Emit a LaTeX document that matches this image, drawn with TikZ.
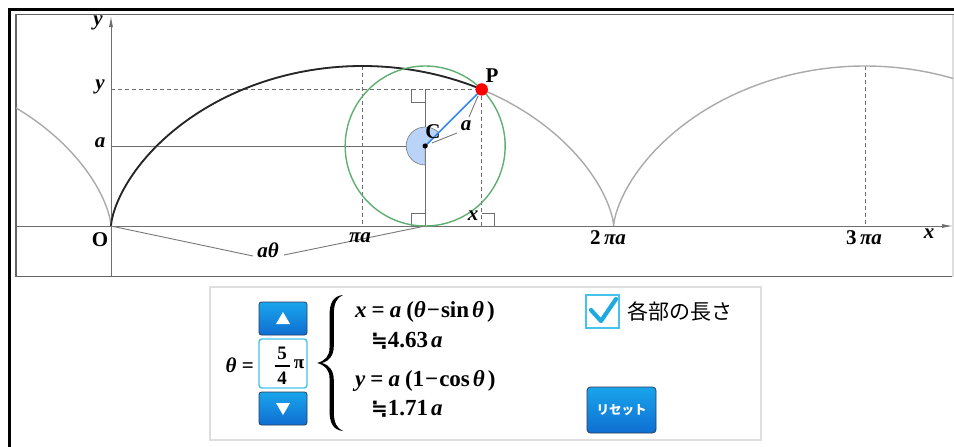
\documentclass[tikz,border=0pt]{standalone}
\usepackage{fontspec}
\setmainfont{Liberation Serif}
\newfontfamily\cjk{Noto Sans CJK JP}
\newfontfamily\dejavu{DejaVu Sans}
\usetikzlibrary{arrows.meta}

\definecolor{gridgray}{RGB}{110,110,110}
\definecolor{framegray}{RGB}{100,100,100}
\definecolor{curvegray}{RGB}{170,170,170}
\definecolor{leadgray}{RGB}{120,120,120}
\definecolor{circgreen}{RGB}{95,175,115}
\definecolor{radblue}{RGB}{50,140,240}
\definecolor{sectorblue}{RGB}{185,212,248}
\definecolor{btntop}{RGB}{25,165,235}
\definecolor{btnbot}{RGB}{15,110,210}
\definecolor{btnedge}{RGB}{40,60,90}
\definecolor{boxcyan}{RGB}{70,195,235}
\definecolor{checkcyan}{RGB}{30,170,225}
\definecolor{panelgray}{RGB}{222,222,222}

\begin{document}
\begin{tikzpicture}[x=1pt,y=-1pt,
  lbl/.style={font=\fontsize{21}{21}\selectfont\bfseries\itshape, inner sep=0pt},
  upl/.style={font=\fontsize{21}{21}\selectfont\bfseries, inner sep=0pt},
  eqn/.style={font=\fontsize{23}{23}\selectfont\bfseries, inner sep=0pt, anchor=west},
  frac/.style={font=\fontsize{19}{19}\selectfont\bfseries, inner sep=0pt},
  dashline/.style={dashed, dash pattern=on 4pt off 3pt, gridgray, line width=0.8pt},
  thinline/.style={gridgray, line width=0.9pt},
  leader/.style={leadgray, line width=0.9pt},
  rightmark/.style={gridgray, line width=0.9pt},
  btn/.style={draw=btnedge, line width=0.8pt, rounded corners=2.5pt, top color=btntop, bottom color=btnbot},
  tri/.style={fill=white, draw=none}
]
\useasboundingbox (0,0) rectangle (954,447);
\fill[white] (0,0) rectangle (954,447);

% outer frame
\draw[line width=3pt, black] (9,447) -- (9,9) -- (954,9);
% plot frame
\draw[framegray, line width=1.5pt] (954,14.5) -- (16,14.5) -- (16,276.5) -- (954,276.5);
\draw[panelgray, line width=1.2pt] (953,14.5) -- (953,276.5);

% key points
\coordinate (O) at (111,226);
\coordinate (C) at (425.16,146);
\coordinate (P) at (481.73,89.43);
\coordinate (T) at (425.16,226);
\coordinate (PX) at (481.73,226);
\coordinate (PY) at (111,89.43);
\coordinate (CY) at (111,146);
\coordinate (CP) at (425.16,89.43);
\coordinate (TopA) at (362.33,66);
\coordinate (BotA) at (362.33,226);
\coordinate (TopB) at (865,66);
\coordinate (BotB) at (865,226);
\coordinate (XL) at (16,226);
\coordinate (XR) at (953,226);
\coordinate (YB) at (111,276);
\coordinate (YT) at (111,16);

% axes
\draw[thinline, -{Latex[length=11pt,width=4pt]}] (XL) -- (XR);
\draw[thinline, -{Latex[length=11pt,width=4pt]}] (YB) -- (YT);

% guide lines
\draw[dashline] (PY) -- (P);
\draw[thinline] (CY) -- (C);
\draw[dashline] (TopA) -- (BotA);
\draw[dashline] (TopB) -- (BotB);
\draw[dashline] (P) -- (PX);
\draw[thinline] (CP) -- (T);

% right-angle marks
\draw[rightmark] (411.16,89.43) -- (411.16,102.43) -- (425.16,102.43);
\draw[rightmark] (411.16,226) -- (411.16,213) -- (425.16,213);
\draw[rightmark] (481.73,213) -- (494.73,213) -- (494.73,226);

% gray cycloid
\begin{scope}
\clip (16,14.5) rectangle (953,276);
\draw[curvegray, line width=1.4pt, domain=-6.2832:12.5664, samples=300, smooth]
  plot ({111+80*(\x - sin(\x r))}, {226-80*(1-cos(\x r))});
\end{scope}
% black cycloid
\draw[black!85, line width=1.8pt, domain=0:3.92699, samples=120, smooth]
  plot ({111+80*(\x - sin(\x r))}, {226-80*(1-cos(\x r))});

% angle sector
\filldraw[fill=sectorblue, draw=leadgray, line width=0.6pt] (C) -- ++(-45:19) arc[start angle=-45, end angle=-270, radius=19] -- cycle;
% circle
\draw[circgreen, line width=1.4pt] (C) circle[radius=80];
% radius
\draw[radblue, line width=1.6pt] (C) -- (P);
\fill[black] (C) circle[radius=2.6];
\fill[red] (P) circle[radius=6.2];

% leaders
\coordinate (L1a) at (253,256);
\coordinate (L1b) at (284,255);
\coordinate (L2a) at (478,96);
\coordinate (L2b) at (469,117);
\coordinate (L3a) at (457,133);
\coordinate (L3b) at (432,143);
\draw[leader] (O) -- (L1a);
\draw[leader] (L1b) -- (T);
\draw[leader] (L2a) -- (L2b);
\draw[leader] (L3a) -- (L3b);

% labels
\node[lbl] (ylab) at (98,23) {y};
\node[lbl] (ytick) at (100,87) {y};
\node[lbl] (atick) at (100,143) {a};
\node[upl] (Olab) at (100,240) {O};
\node[lbl] (athlab) at (268,250) {aθ};
\node[lbl] (pialab) at (360,238) {πa};
\node[lbl] (twopialab) at (608,238) {\upshape 2\,\itshape πa};
\node[lbl] (threepialab) at (864,238) {\upshape 3\,\itshape πa};
\node[lbl] (xlab) at (929,234) {x};
\node[upl] (Plab) at (492,76) {P};
\node[upl] (Clab) at (433,132) {C};
\node[lbl] (alab) at (466,126) {a};
\node[lbl] (xfoot) at (473,216) {x};

% control panel
\draw[panelgray, line width=1.2pt] (210,287) rectangle (761,440);

\node[lbl, anchor=east] (thetalab) at (254,365) {θ\upshape\ =};
\draw[btn] (259,302) rectangle (307,335);
\node[draw=none] (upbtn) at (283,318.5) {};
\fill[tri] (276,324) -- (290,324) -- (283,312) -- cycle;
\draw[boxcyan, line width=1.4pt, rounded corners=3pt, fill=white] (259,339) rectangle (307,388);
\node[frac] (num) at (282,353) {5};
\node[frac] (den) at (282,378) {4};
\draw[black, line width=1.1pt] (274.5,366) -- (289.5,366);
\node[frac] (pisym) at (299,364) {π};
\draw[btn] (259,392) rectangle (307,425);
\node[draw=none] (downbtn) at (283,408.5) {};
\fill[tri] (276,403) -- (290,403) -- (283,415) -- cycle;

% brace (calligraphic)
\fill[black] (343,295) .. controls (333,296) and (329.5,303) .. (329.5,316) -- (329.5,348)
  .. controls (329.5,356) and (325,361) .. (317,363)
  .. controls (325,365) and (329.5,370) .. (329.5,378) -- (329.5,410)
  .. controls (329.5,423) and (333,430) .. (343,431)
  .. controls (337,428.5) and (333.8,423) .. (333.8,412) -- (333.8,380)
  .. controls (333.8,371) and (329.5,365) .. (322,363)
  .. controls (329.5,361) and (333.8,355) .. (333.8,346) -- (333.8,314)
  .. controls (333.8,303) and (337,297.5) .. (343,295) -- cycle;

% equations
\node[eqn] (eq1) at (355,312) {\itshape x\hspace{5pt}\upshape=\hspace{5pt}\itshape a\hspace{5pt}\upshape(\itshape θ\upshape\hspace{1pt}−\hspace{1pt}sin\hspace{3pt}\itshape θ\hspace{3pt}\upshape)};
\node[eqn] (eq2) at (371,341) {{\dejavu\bfseries\fontsize{20}{20}\selectfont ≒}4.63\hspace{3pt}\itshape a};
\node[eqn] (eq3) at (355,381) {\itshape y\hspace{5pt}\upshape=\hspace{5pt}\itshape a\hspace{5pt}\upshape(1\hspace{1pt}−\hspace{1pt}cos\hspace{3pt}\itshape θ\hspace{3pt}\upshape)};
\node[eqn] (eq4) at (371,409) {{\dejavu\bfseries\fontsize{20}{20}\selectfont ≒}1.71\hspace{3pt}\itshape a};

% checkbox
\draw[boxcyan, line width=2.4pt] (586,295) rectangle (619,328);
\draw[checkcyan, line width=4.2pt, line cap=round, line join=round] (591,310) -- (601,321) -- (616,299);
\node[font=\cjk\fontsize{21}{21}\selectfont, anchor=west, inner sep=0pt] (chklab) at (627,311) {各部の長さ};

% reset button
\draw[btn, rounded corners=3.5pt] (587,387) rectangle (656,433);
\node[font=\cjk\bfseries\fontsize{12.5}{12.5}\selectfont, text=white, inner sep=0pt] (reset) at (621.5,410) {リセット};
\end{tikzpicture}
\end{document}
